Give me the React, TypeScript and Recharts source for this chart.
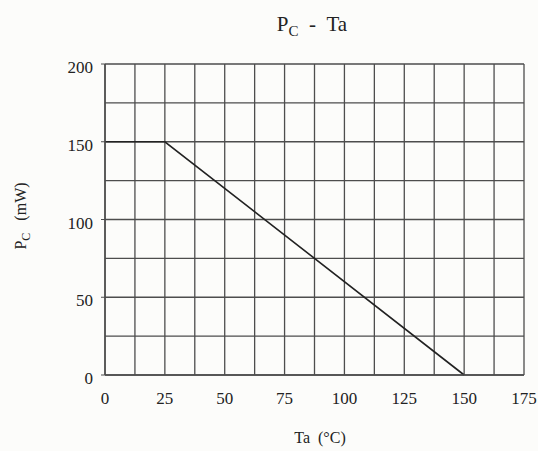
import React from 'react';
import { LineChart, Line, XAxis, YAxis, CartesianGrid } from 'recharts';

// derating curve: flat up to 25 °C, then linear to zero at 150 °C
const temps = [0, 25, 150];
const power = [150, 150, 0];

const xTicks = [0, 25, 50, 75, 100, 125, 150, 175];
const yTicks = [0, 50, 100, 150, 200];
const xGrid = [0, 12.5, 25, 37.5, 50, 62.5, 75, 87.5, 100, 112.5, 125, 137.5, 150, 162.5, 175];
const yGrid = [0, 25, 50, 75, 100, 125, 150, 175, 200];

const chartData = temps.map((t, i) => ({ ta: t, pc: power[i] }));

const FONT = '"Liberation Serif", "Times New Roman", serif';
const INK = '#222';
const GRID = '#4d4d4d';
const SP = '\u00a0';

const tickStyle = { fontFamily: FONT, fontSize: 17, fill: INK };

const App: React.FC = () => {
  return (
    <div style={{ position: 'absolute', left: 0, top: 0, width: 538, height: 451, background: '#fcfcfa' }}>
      <LineChart
        width={538}
        height={451}
        data={chartData}
        margin={{ top: 64, right: 14, bottom: 46, left: 0 }}
      >
        <CartesianGrid
          stroke={GRID}
          strokeWidth={1.3}
          verticalValues={xGrid}
          horizontalValues={yGrid}
        />
        <XAxis
          dataKey="ta"
          type="number"
          domain={[0, 175]}
          ticks={xTicks}
          interval={0}
          height={30}
          tickLine={false}
          axisLine={{ stroke: GRID, strokeWidth: 1.5 }}
          tick={tickStyle}
          tickMargin={11}
        />
        <YAxis
          type="number"
          domain={[0, 200]}
          ticks={yTicks}
          interval={0}
          width={105}
          tickSize={4}
          tickLine={{ stroke: GRID }}
          axisLine={{ stroke: GRID, strokeWidth: 1.5 }}
          tick={{ ...tickStyle, dy: 3 }}
          tickMargin={8}
        />
        <Line
          dataKey="pc"
          stroke="#222"
          strokeWidth={1.6}
          dot={false}
          isAnimationActive={false}
        />
      </LineChart>
      <svg
        width={538}
        height={451}
        style={{ position: 'absolute', left: 0, top: 0, pointerEvents: 'none' }}
      >
        <text x={312} y={31} textAnchor="middle" fontFamily={FONT} fontSize={21} fill={INK}>
          P<tspan fontSize={15} dy={5}>C</tspan>
          <tspan dy={-5}>{`${SP}${SP}-${SP}${SP}Ta`}</tspan>
        </text>
        <text
          x={0}
          y={0}
          transform="translate(26 216) rotate(-90)"
          textAnchor="middle"
          fontFamily={FONT}
          fontSize={16}
          fill={INK}
        >
          P<tspan fontSize={12} dy={4}>C</tspan>
          <tspan dy={-4}>{`${SP}${SP}${SP}(mW)`}</tspan>
        </text>
        <text x={320} y={443} textAnchor="middle" fontFamily={FONT} fontSize={16} fill={INK}>
          {`Ta${SP}${SP}(°C)`}
        </text>
      </svg>
    </div>
  );
};

export default App;
